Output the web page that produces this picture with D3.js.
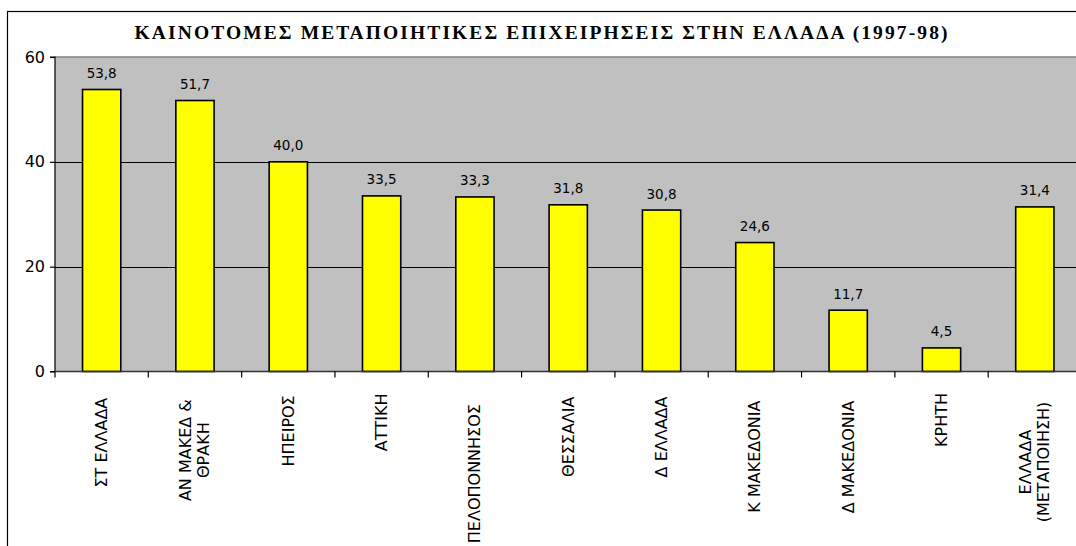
<!DOCTYPE html>
<html>
<head>
<meta charset="utf-8">
<script src="https://cdn.jsdelivr.net/npm/d3@7"></script>
<style>
  html, body { margin: 0; padding: 0; background: #fff; overflow: hidden; }
  svg { display: block; }
</style>
</head>
<body>
<svg id="chart" width="1076" height="546"></svg>
<script>
const title = "ΚΑΙΝΟΤΟΜΕΣ ΜΕΤΑΠΟΙΗΤΙΚΕΣ ΕΠΙΧΕΙΡΗΣΕΙΣ ΣΤΗΝ ΕΛΛΑΔΑ  (1997-98)";
const categories = [
  ["ΣΤ ΕΛΛΑΔΑ"],
  ["ΑΝ ΜΑΚΕΔ &", "ΘΡΑΚΗ"],
  ["ΗΠΕΙΡΟΣ"],
  ["ΑΤΤΙΚΗ"],
  ["ΠΕΛΟΠΟΝΝΗΣΟΣ"],
  ["ΘΕΣΣΑΛΙΑ"],
  ["Δ ΕΛΛΑΔΑ"],
  ["Κ ΜΑΚΕΔΟΝΙΑ"],
  ["Δ ΜΑΚΕΔΟΝΙΑ"],
  ["ΚΡΗΤΗ"],
  ["ΕΛΛΑΔΑ", "(ΜΕΤΑΠΟΙΗΣΗ)"]
];
const values = [53.8, 51.7, 40.0, 33.5, 33.3, 31.8, 30.8, 24.6, 11.7, 4.5, 31.4];
const yTicks = [0, 20, 40, 60];

const svg = d3.select("#chart");
const W = 1076, H = 546;
const plot = { left: 55, top: 57, right: 1081.5, bottom: 371.5 };

// outer chart border
svg.append("rect")
  .attr("x", 7.5).attr("y", 11.5)
  .attr("width", W + 20).attr("height", H + 20)
  .attr("fill", "#fff").attr("stroke", "#000").attr("stroke-width", 1.2);

const ids = categories.map((c, i) => i);
const x = d3.scaleBand().domain(ids).range([plot.left, plot.right])
  .paddingInner(0.59).paddingOuter(0.295);
const y = d3.scaleLinear().domain([0, 60]).range([plot.bottom, plot.top]);

// plot background
svg.append("rect")
  .attr("x", plot.left).attr("y", plot.top)
  .attr("width", plot.right - plot.left).attr("height", plot.bottom - plot.top)
  .attr("fill", "#c0c0c0");

// plot top border (gray)
svg.append("line")
  .attr("x1", plot.left).attr("x2", plot.right)
  .attr("y1", y(60)).attr("y2", y(60))
  .attr("stroke", "#808080").attr("stroke-width", 1.5);

// gridlines
svg.append("g").selectAll("line")
  .data(yTicks.filter(t => t > 0 && t < 60))
  .join("line")
  .attr("x1", plot.left).attr("x2", plot.right)
  .attr("y1", d => Math.round(y(d)) + 0.5).attr("y2", d => Math.round(y(d)) + 0.5)
  .attr("stroke", "#000").attr("stroke-width", 1);

// bars
svg.append("g").selectAll("rect")
  .data(values)
  .join("rect")
  .attr("x", (d, i) => x(i))
  .attr("y", d => y(d))
  .attr("width", x.bandwidth())
  .attr("height", d => y(0) - y(d))
  .attr("fill", "#ffff00")
  .attr("stroke", "#000").attr("stroke-width", 1.6);

// value labels
svg.append("g").selectAll("text")
  .data(values)
  .join("text")
  .attr("x", (d, i) => x(i) + x.bandwidth() / 2)
  .attr("y", d => y(d) - 11.5)
  .attr("text-anchor", "middle")
  .attr("font-family", "DejaVu Sans")
  .attr("font-size", 13.5)
  .attr("fill", "#000")
  .text(d => d3.format(".1f")(d).replace(".", ","));

// y axis
const yAxis = d3.axisLeft(y).tickValues(yTicks).tickSize(5).tickPadding(5)
  .tickFormat(d3.format("d"));
const gy = svg.append("g").attr("transform", `translate(${plot.left},0)`).call(yAxis);
gy.select(".domain").attr("stroke", "#000").attr("stroke-width", 1.2)
  .attr("d", `M-5,${plot.top}H0V${plot.bottom}H-5`);
gy.selectAll(".tick line").attr("stroke", "#000").attr("stroke-width", 1.2);
gy.selectAll(".tick text").attr("font-family", "DejaVu Sans").attr("font-size", 16).attr("fill", "#000");

// x axis line
svg.append("line")
  .attr("x1", plot.left).attr("x2", plot.right)
  .attr("y1", plot.bottom).attr("y2", plot.bottom)
  .attr("stroke", "#333").attr("stroke-width", 1.5);

// x ticks at band boundaries
const boundaries = ids.map(i => x(i) - x.step() * x.paddingInner() / 2);
svg.append("g").selectAll("line")
  .data(boundaries)
  .join("line")
  .attr("x1", d => d).attr("x2", d => d)
  .attr("y1", plot.bottom).attr("y2", plot.bottom + 6)
  .attr("stroke", "#000").attr("stroke-width", 1.2);

// category labels (rotated)
const lineH = 18;
const lab = svg.append("g").selectAll("g")
  .data(categories)
  .join("g");
lab.each(function(lines, i) {
  const g = d3.select(this);
  const cx = x(i) + x.bandwidth() / 2;
  const texts = g.selectAll("text").data(lines).join("text")
    .attr("font-family", "DejaVu Sans")
    .attr("font-size", 16)
    .attr("fill", "#000")
    .attr("text-anchor", "middle")
    .attr("dominant-baseline", "central")
    .text(d => d);
  let L = 0;
  texts.each(function() { L = Math.max(L, this.getComputedTextLength()); });
  const top = 386 + 0.13 * L;
  g.attr("transform", `translate(${cx},${top}) rotate(-90)`);
  texts.attr("x", -L / 2)
    .attr("y", (d, k) => (k - (lines.length - 1) / 2) * lineH);
});

// title
const t = svg.append("text")
  .attr("x", 541).attr("y", 39)
  .attr("text-anchor", "middle")
  .attr("font-family", "Liberation Serif")
  .attr("font-weight", "bold")
  .attr("font-size", 17)
  .attr("fill", "#000")
  .text(title);
const tl0 = t.node().getComputedTextLength();
const fs = Math.min(19.5, 17 * 813 / tl0);
t.attr("font-size", fs);
const tl = t.node().getComputedTextLength();
if (Math.abs(tl - 813) > 4) t.attr("textLength", 813).attr("lengthAdjust", "spacing");
</script>
</body>
</html>
